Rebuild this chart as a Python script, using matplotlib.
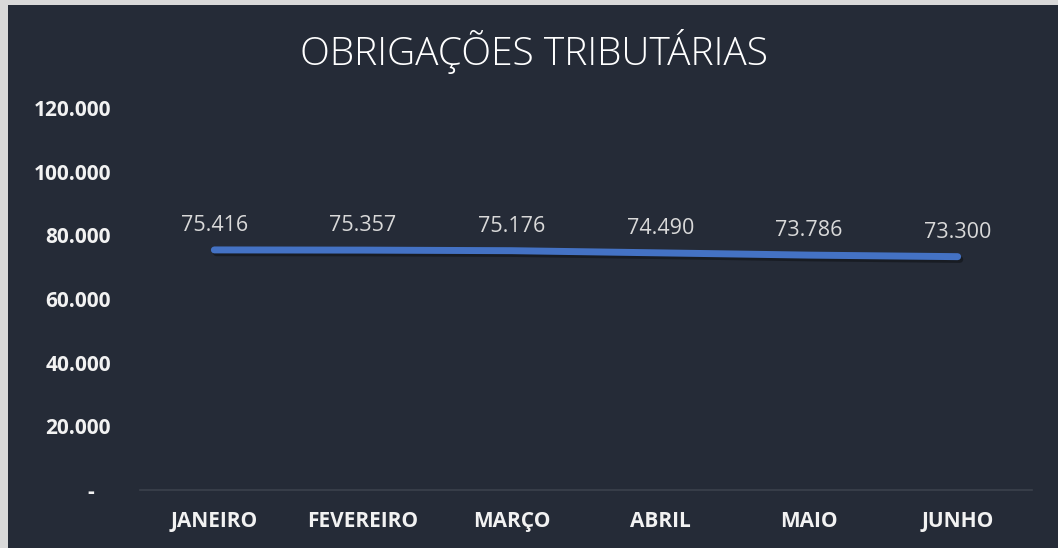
import matplotlib
matplotlib.use('Agg')
import matplotlib.pyplot as plt
from matplotlib.patches import Rectangle
from matplotlib.ticker import FixedLocator
import matplotlib.patheffects as pe

# chart data
MONTHS = ['JANEIRO', 'FEVEREIRO', 'MARÇO', 'ABRIL', 'MAIO', 'JUNHO']
VALUES = [75416, 75357, 75176, 74490, 73786, 73300]
Y_TICKS = [0, 20000, 40000, 60000, 80000, 100000, 120000]
Y_TICK_LABELS = ['-   ', '20.000', '40.000', '60.000', '80.000', '100.000', '120.000']

BG = '#252b37'
LINE = '#4472c4'

plt.rcParams['font.family'] = ['Open Sans', 'DejaVu Sans']

fig = plt.figure(figsize=(10.58, 5.48), dpi=100)
fig.patch.set_facecolor('#d9d9d9')
# dark panel with the thin light edge on left and top
fig.patches.append(Rectangle((8 / 1058, 0), 1 - 8 / 1058, 1 - 5 / 548,
                             transform=fig.transFigure, facecolor=BG,
                             edgecolor='none', zorder=-5))

ax = fig.add_axes([140 / 1058, 1 - 490 / 548, 892 / 1058, 382 / 548])
ax.set_facecolor('none')
ax.set_zorder(2)

x = list(range(len(MONTHS)))
ax.plot(x, VALUES, color=LINE, linewidth=5, solid_capstyle='round',
        path_effects=[pe.SimpleLineShadow(offset=(1.5, -2), alpha=0.35),
                      pe.Normal()])

for xi, v in zip(x, VALUES):
    ax.annotate(f'{v:,}'.replace(',', '.'), (xi, v), xytext=(0, 10),
                textcoords='offset points', ha='center', va='bottom',
                color='#d9d9d9', fontsize=15.5)

ax.set_xlim(-0.5, len(MONTHS) - 0.5)
ax.set_ylim(0, 120000)
ax.yaxis.set_major_locator(FixedLocator(Y_TICKS))
ax.set_yticklabels(Y_TICK_LABELS)
ax.set_xticks(x)
ax.set_xticklabels(MONTHS)

for s in ['top', 'right', 'left']:
    ax.spines[s].set_visible(False)
ax.spines['bottom'].set_color('#3b414c')
ax.spines['bottom'].set_linewidth(1.2)

ax.tick_params(axis='both', length=0, colors='white', labelsize=15)
ax.tick_params(axis='x', pad=15)
ax.tick_params(axis='y', pad=21)
for lbl in ax.get_xticklabels() + ax.get_yticklabels():
    lbl.set_fontweight('bold')
    lbl.set_color('#f2f2f2')

fig.text(534 / 1058, 1 - 52 / 548, 'OBRIGAÇÕES TRIBUTÁRIAS', ha='center',
         va='center', color='white', fontsize=28, fontweight='light', zorder=3)

fig.savefig('out.png', dpi=100, facecolor=fig.get_facecolor())
